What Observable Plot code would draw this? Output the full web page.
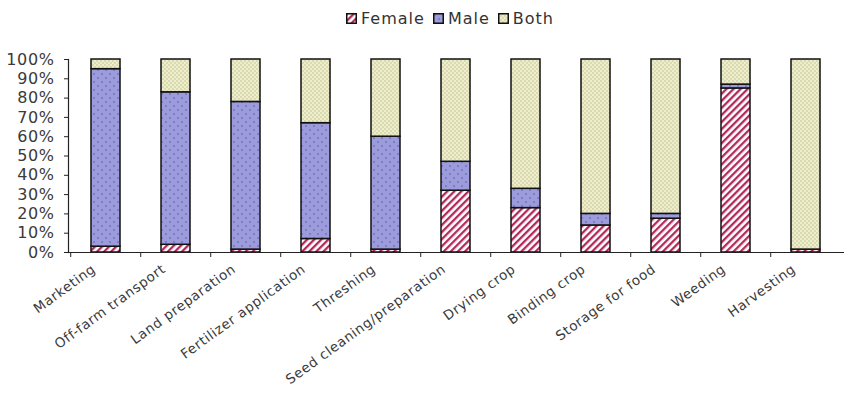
<!DOCTYPE html>
<html>
<head>
<meta charset="utf-8">
<script src="https://cdn.jsdelivr.net/npm/d3@7"></script>
<script src="https://cdn.jsdelivr.net/npm/@observablehq/plot@0.6"></script>
<style>
  html, body { margin: 0; padding: 0; background: #fff; }
  body { width: 844px; height: 395px; overflow: hidden; font-family: "DejaVu Sans", sans-serif; }
  #legend { height: 36px; display: flex; justify-content: center; align-items: center; font-size: 16px; letter-spacing: 1px; color: #333; box-sizing: border-box; padding-left: 56px; }
  #legend .item { display: flex; align-items: center; margin: 0 4px; }
  #legend svg { margin-right: 4px; }
</style>
</head>
<body>
<div id="legend"></div>
<div id="chart"></div>
<script>
const categories = ["Marketing", "Off-farm transport", "Land preparation", "Fertilizer application", "Threshing", "Seed cleaning/preparation", "Drying crop", "Binding crop", "Storage for food", "Weeding", "Harvesting"];
const seriesNames = ["Female", "Male", "Both"];
const female = [3, 4, 1.5, 7, 1.5, 32, 23, 14, 17.5, 85, 1.5];
const male = [92, 79, 76.5, 60, 58.5, 15, 10, 6, 2.5, 2, 0];
const both = [5, 17, 22, 33, 40, 53, 67, 80, 80, 13, 98.5];
const yTicks = [0, 10, 20, 30, 40, 50, 60, 70, 80, 90, 100];

const seriesValues = {Female: female, Male: male, Both: both};
const patternIds = {Female: "pat-female", Male: "pat-male", Both: "pat-both"};

const data = [];
categories.forEach((c, i) => {
  seriesNames.forEach(s => data.push({category: c, series: s, value: seriesValues[s][i]}));
});

const defsMarkup = `
  <pattern id="pat-female" patternUnits="userSpaceOnUse" width="5" height="5" patternTransform="rotate(45)">
    <rect width="5" height="5" fill="#ffffff"/>
    <rect width="2.3" height="5" fill="#b02a5a"/>
  </pattern>
  <pattern id="pat-male" patternUnits="userSpaceOnUse" width="8" height="8">
    <rect width="8" height="8" fill="#9c9cdc"/>
    <circle cx="2" cy="2" r="0.7" fill="#4a4a9a"/>
    <circle cx="6" cy="6" r="0.7" fill="#4a4a9a"/>
  </pattern>
  <pattern id="pat-both" patternUnits="userSpaceOnUse" width="4" height="4">
    <rect width="4" height="4" fill="#eeeecd"/>
    <rect width="2" height="2" fill="#d9dab2"/>
    <rect x="2" y="2" width="2" height="2" fill="#d9dab2"/>
  </pattern>`;

const plot = Plot.plot({
  width: 844,
  height: 359,
  marginTop: 23,
  marginBottom: 143,
  marginLeft: 68,
  marginRight: 0,
  style: {fontFamily: "DejaVu Sans, sans-serif", color: "#3a3a3a", background: "#fff"},
  x: {domain: categories, paddingInner: 0.58, paddingOuter: 0.29, label: null},
  y: {domain: [0, 100], label: null},
  color: {type: "ordinal", domain: seriesNames, range: seriesNames.map(s => `url(#${patternIds[s]})`)},
  marks: [
    Plot.barY(data, Plot.stackY({order: seriesNames}, {x: "category", y: "value", fill: "series", stroke: "#111", strokeWidth: 1.5})),
    Plot.axisY({ticks: yTicks, tickFormat: d => d + "%", tickSize: 4, tickPadding: 10, fontSize: 16, stroke: "#222", label: null}),
    Plot.axisX({tickSize: 5, dx: -35.27, tickFormat: () => "", stroke: "#222", label: null}),
    Plot.axisX({tickSize: 0, tickPadding: 15, tickRotate: -36, dx: -12, fontSize: 13.5, label: null}),
    Plot.frame({anchor: "left", stroke: "#222", strokeWidth: 1.2}),
    Plot.frame({anchor: "bottom", stroke: "#222", strokeWidth: 1.2})
  ]
});

plot.querySelectorAll("text").forEach(t => t.style.letterSpacing = "0.6px");

const defs = document.createElementNS("http://www.w3.org/2000/svg", "defs");
defs.innerHTML = defsMarkup;
plot.insertBefore(defs, plot.firstChild);
document.getElementById("chart").appendChild(plot);

// Legend (HTML, above the SVG)
const legend = d3.select("#legend");
seriesNames.forEach(s => {
  const item = legend.append("div").attr("class", "item");
  item.append("svg").attr("width", 11).attr("height", 11)
    .append("rect").attr("x", 0.75).attr("y", 0.75).attr("width", 9.5).attr("height", 9.5)
    .attr("fill", `url(#${patternIds[s]})`).attr("stroke", "#111").attr("stroke-width", 1.5);
  item.append("span").text(s);
});
</script>
</body>
</html>
